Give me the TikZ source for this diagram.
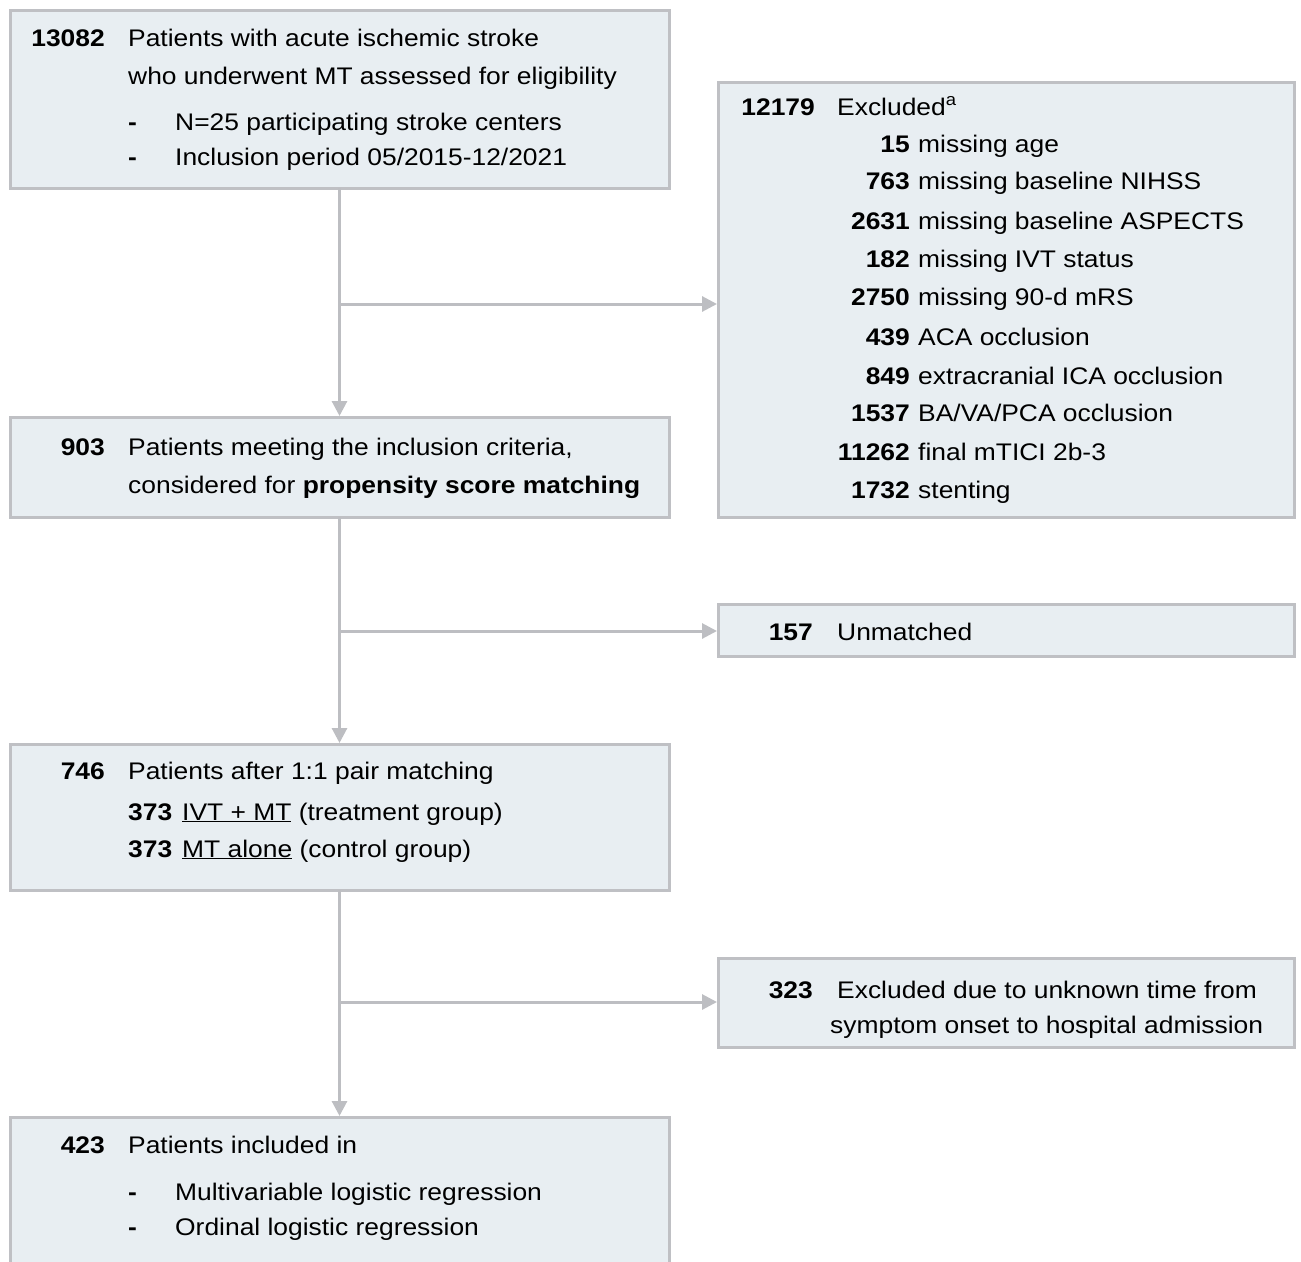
\documentclass[tikz,border=0pt]{standalone}
\usepackage{fontspec}
\setmainfont{Liberation Sans}[FakeStretch=1.1]
\usetikzlibrary{arrows.meta}
\definecolor{boxfill}{HTML}{E8EEF2}
\definecolor{boxline}{HTML}{BFC0C4}
\definecolor{conn}{HTML}{BDBEC2}
\newcommand{\fsz}{\fontsize{24}{29}\selectfont}
\tikzset{
  box/.style={draw=boxline, fill=boxfill, line width=3pt, inner sep=0pt, outer sep=0pt, anchor=north west},
  num/.style={font=\fsz\bfseries, anchor=base east, inner sep=0pt},
  numl/.style={font=\fsz\bfseries, anchor=base west, inner sep=0pt},
  txt/.style={font=\fsz, anchor=base west, inner sep=0pt},
  conline/.style={draw=conn, line width=3pt},
  arr/.style={conline, -{Triangle[length=15pt,width=15pt]}, shorten >=1pt}
}
\begin{document}
\begin{tikzpicture}[x=1pt,y=-1pt]
\useasboundingbox (0,0) rectangle (1301,1261);
\clip (0,0) rectangle (1301,1261);
% boxes
\node[box, minimum width=659pt, minimum height=178pt] (b1) at (10,10) {};
\node[box, minimum width=576pt, minimum height=435pt] (b2) at (718,82) {};
\node[box, minimum width=659pt, minimum height=100pt] (b3) at (10,417) {};
\node[box, minimum width=576pt, minimum height=52pt] (b4) at (718,604) {};
\node[box, minimum width=659pt, minimum height=146pt] (b5) at (10,744) {};
\node[box, minimum width=576pt, minimum height=89pt] (b6) at (718,958) {};
\node[box, minimum width=659pt, minimum height=200pt] (b7) at (10,1117) {};
% connectors
\coordinate (j1) at (b1.south |- 0,304);
\coordinate (j2) at (b3.south |- 0,631);
\coordinate (j3) at (b5.south |- 0,1002);
\draw[arr] (b1.south) -- (b3.north);
\draw[arr] (b3.south) -- (b5.north);
\draw[arr] (b5.south) -- (b7.north);
\draw[arr] (j1) -- (b2.west |- j1);
\draw[arr] (j2) -- (b4.west |- j2);
\draw[arr] (j3) -- (b6.west |- j3);
% box 1
\node[num] (n1) at (105,46) {13082};
\node[txt] (t1a) at (128,46) {Patients with acute ischemic stroke};
\node[txt] (t1b) at (128,84) {who underwent MT assessed for eligibility};
\node[numl] (d1a) at (128,130) {-};
\node[txt] (t1c) at (175,130) {N=25 participating stroke centers};
\node[numl] (d1b) at (128,165) {-};
\node[txt] (t1d) at (175,165) {Inclusion period 05/2015-12/2021};
% box 2
\node[num] (n2) at (815,115) {12179};
\node[txt] (t2) at (837,115) {Excluded\textsuperscript{a}};
\node[num] (n2a) at (910,152) {15};   \node[txt] (t2a) at (918,152) {missing age};
\node[num] (n2b) at (910,189) {763};  \node[txt] (t2b) at (918,189) {missing baseline NIHSS};
\node[num] (n2c) at (910,229) {2631}; \node[txt] (t2c) at (918,229) {missing baseline ASPECTS};
\node[num] (n2d) at (910,267) {182};  \node[txt] (t2d) at (918,267) {missing IVT status};
\node[num] (n2e) at (910,305) {2750}; \node[txt] (t2e) at (918,305) {missing 90-d mRS};
\node[num] (n2f) at (910,345) {439};  \node[txt] (t2f) at (918,345) {ACA occlusion};
\node[num] (n2g) at (910,384) {849};  \node[txt] (t2g) at (918,384) {extracranial ICA occlusion};
\node[num] (n2h) at (910,421) {1537}; \node[txt] (t2h) at (918,421) {BA/VA/PCA occlusion};
\node[num] (n2i) at (910,460) {11262};\node[txt] (t2i) at (918,460) {final mTICI 2b-3};
\node[num] (n2j) at (910,498) {1732}; \node[txt] (t2j) at (918,498) {stenting};
% box 3
\node[num] (n3) at (105,455) {903};
\node[txt] (t3a) at (128,455) {Patients meeting the inclusion criteria,};
\node[txt] (t3b) at (128,493) {considered for \textbf{propensity score matching}};
% box 4
\node[num] (n4) at (813,640) {157};
\node[txt] (t4) at (837,640) {Unmatched};
% box 5
\node[num] (n5) at (105,779) {746};
\node[txt] (t5) at (128,779) {Patients after 1:1 pair matching};
\node[numl] (n5a) at (128,820) {373};
\node[txt] (t5a) at (182,820) {\underline{IVT + MT} (treatment group)};
\node[numl] (n5b) at (128,857) {373};
\node[txt] (t5b) at (182,857) {\underline{MT alone} (control group)};
% box 6
\node[num] (n6) at (813,998) {323};
\node[txt] (t6a) at (837,998) {Excluded due to unknown time from};
\node[txt] (t6b) at (830,1033) {symptom onset to hospital admission};
% box 7
\node[num] (n7) at (105,1153) {423};
\node[txt] (t7) at (128,1153) {Patients included in};
\node[numl] (d7a) at (128,1200) {-};
\node[txt] (t7a) at (175,1200) {Multivariable logistic regression};
\node[numl] (d7b) at (128,1235) {-};
\node[txt] (t7b) at (175,1235) {Ordinal logistic regression};
\end{tikzpicture}
\end{document}
